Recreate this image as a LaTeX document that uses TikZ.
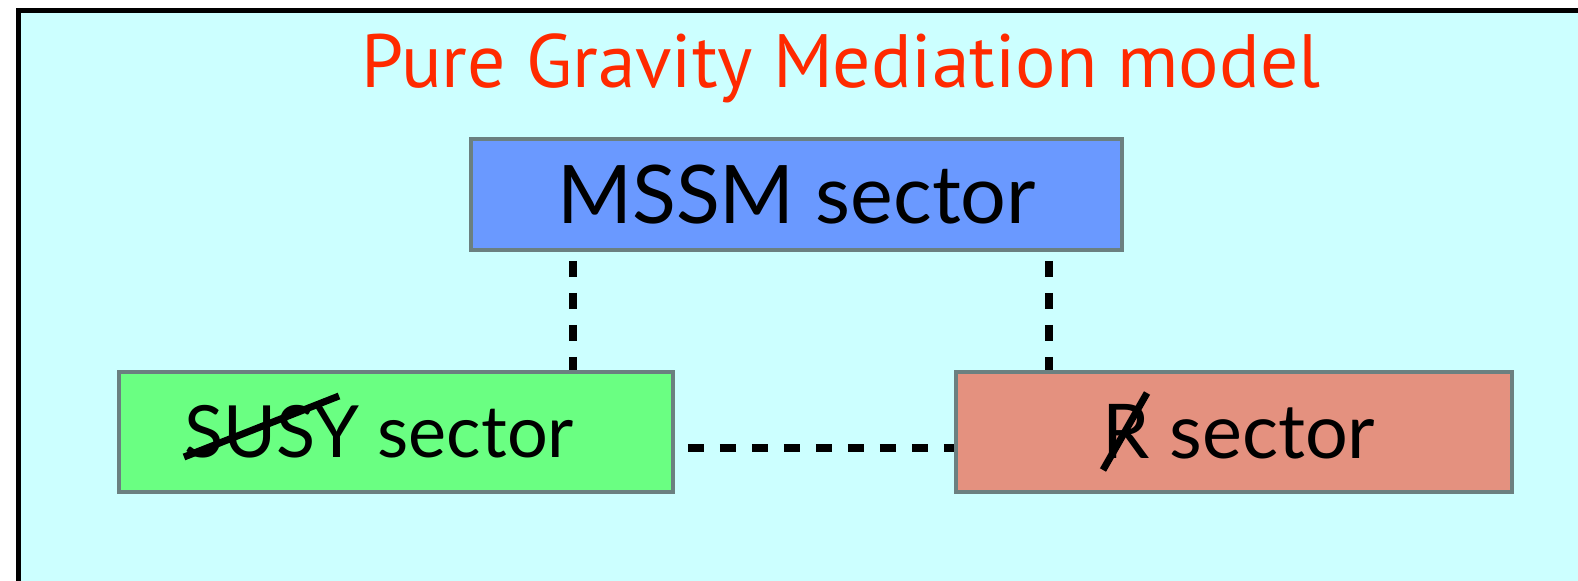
\documentclass[tikz,border=0pt]{standalone}
\usepackage{fontspec}
\setmainfont{Lato}
\newfontfamily\titlefont{PT Sans}
\usepackage{tikz}
\usepackage{xcolor}

\definecolor{panelbg}{HTML}{CCFFFF}
\definecolor{titlered}{HTML}{FF2A00}
\definecolor{boxedge}{HTML}{6B8080}
\definecolor{mssmblue}{HTML}{6A99FF}
\definecolor{susygreen}{HTML}{6AFF82}
\definecolor{rsalmon}{HTML}{E4917F}

\tikzset{
  sectorbox/.style={draw=boxedge, line width=0.08cm, inner sep=0pt,
    font=\fontsize{41}{41}\selectfont},
  link/.style={line width=0.17cm, dash pattern=on 0.32cm off 0.32cm},
  strike/.style={line width=0.14cm},
}

\begin{document}
\begin{tikzpicture}[x=0.02cm,y=-0.02cm]
  \useasboundingbox (0,0) rectangle (1578,581);
  \clip (0,0) rectangle (1578,581);
  % panel
  \draw[fill=panelbg, line width=0.1cm] (18.5,10.5) rectangle (1620,620);
  \node[anchor=base, text=titlered, font=\titlefont\fontsize{43}{43}\selectfont] (title) at (841,88) {Pure Gravity Mediation model};
  % sectors
  \node[sectorbox, fill=mssmblue, minimum width=13.02cm, minimum height=2.22cm,
    font=\fontsize{46}{46}\selectfont] (mssm) at (796.5,194.5) {MSSM sector};
  \node[sectorbox, fill=susygreen, minimum width=11.08cm, minimum height=2.4cm] (susy) at (396,432) {\kern-0.68cm SUSY sector};
  \node[sectorbox, fill=rsalmon, minimum width=11.12cm, minimum height=2.4cm,
    font=\fontsize{43}{43}\selectfont] (rsec) at (1234,432) {\kern0.2cm R sector};
  % dashed links
  \coordinate (leftdrop) at (573,0);
  \coordinate (rightdrop) at (1049,0);
  \coordinate (sidelink) at (0,448);
  \draw[link, shorten <=0.18cm] (mssm.south -| leftdrop) -- (susy.north -| leftdrop);
  \draw[link, shorten <=0.18cm] (mssm.south -| rightdrop) -- (rsec.north -| rightdrop);
  \draw[link, shorten <=0.26cm] (susy.east |- sidelink) -- (rsec.west |- sidelink);
  % broken symmetries
  \draw[strike] (184,457) -- (339,396);
  \draw[strike] (1103,470) -- (1147,393);
\end{tikzpicture}
\end{document}
